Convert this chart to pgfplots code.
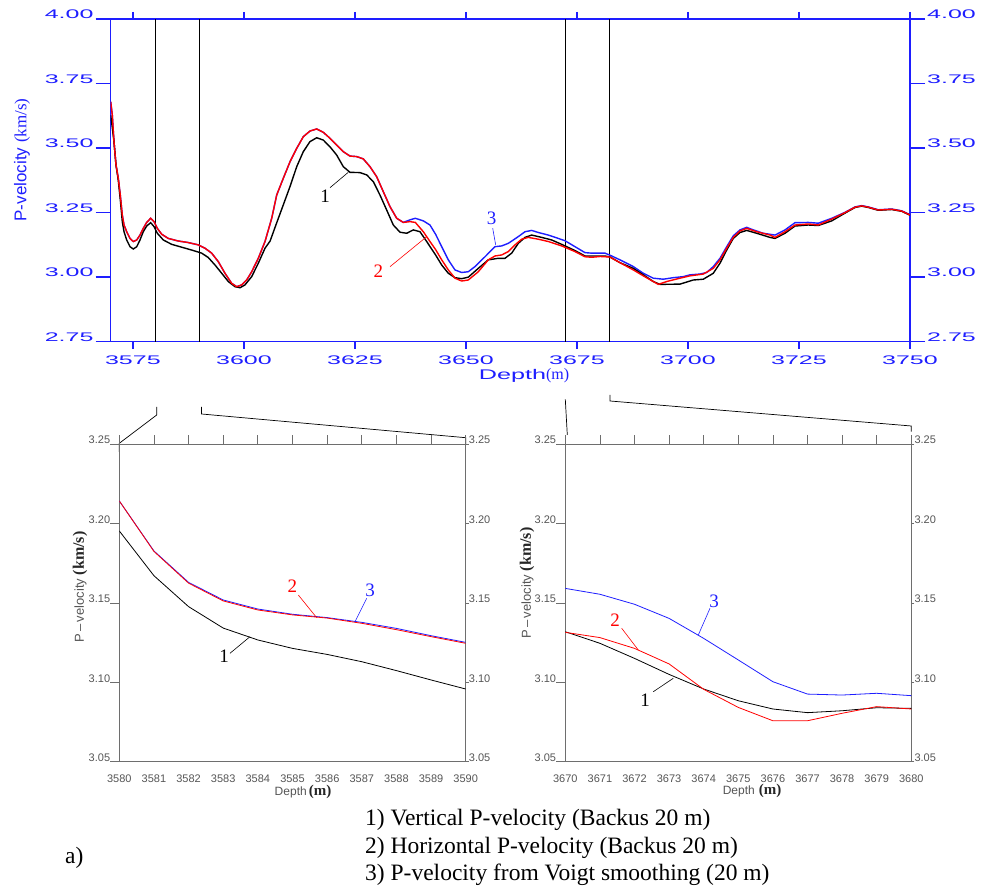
\documentclass[border=0pt]{standalone}
\usepackage{pgfplots}
\pgfplotsset{compat=1.18}
\usepackage{fontspec}
\setmainfont{Liberation Serif}
\setsansfont{Liberation Sans}
\usepackage{graphicx}
\definecolor{pblue}{RGB}{30,30,255}
\definecolor{pred}{RGB}{255,0,0}
\definecolor{tgray}{RGB}{85,85,85}
\definecolor{sgray}{RGB}{110,110,110}
\newcommand{\bt}[1]{\scalebox{2.0}[1]{\fontsize{12.5}{12.5}\selectfont\sffamily #1}}
\newcommand{\gt}[1]{{\fontsize{11}{11}\selectfont\sffamily\color{tgray}#1}}
\begin{document}
\begin{tikzpicture}
\path[use as bounding box] (0,0) rectangle (986pt,891pt);
% ---------------- main axis ----------------
\begin{axis}[name=main, at={(110.7pt,549.3pt)}, anchor=south west, scale only axis,
  width=799.3pt, height=322.7pt,
  xmin=3570, xmax=3750, ymin=2.75, ymax=4,
  axis line style={pblue, line width=1.5pt},
  xtick={3575,3600,3625,3650,3675,3700,3725,3750},
  xticklabels={\bt{3575},\bt{3600},\bt{3625},\bt{3650},\bt{3675},\bt{3700},\bt{3725},\bt{3750}},
  xtick pos=both, xticklabel pos=lower, tick align=outside, major tick length=7pt,
  tick style={pblue, line width=1.5pt},
  xticklabel style={pblue, inner sep=0pt, anchor=north, yshift=-7pt},
  ytick=\empty,
  clip=true]
\draw[black, line width=0.8pt] (axis cs:3580,2.75) -- (axis cs:3580,4);
\draw[black, line width=0.8pt] (axis cs:3590,2.75) -- (axis cs:3590,4);
\draw[black, line width=0.8pt] (axis cs:3672.3,2.75) -- (axis cs:3672.3,4);
\draw[black, line width=0.8pt] (axis cs:3682.4,2.75) -- (axis cs:3682.4,4);
% 3) Voigt (blue)
\addplot[pblue, line width=1.4pt] coordinates {(3570.0,3.680)(3570.36,3.628)(3570.74,3.525)(3571.19,3.435)(3571.71,3.383)(3572.16,3.318)(3572.61,3.241)(3573.0,3.202)(3573.6,3.176)(3574.35,3.150)(3575.09,3.138)(3575.86,3.144)(3576.6,3.163)(3577.34,3.189)(3578.1,3.212)(3579.0,3.228)(3579.75,3.215)(3580.5,3.189)(3581.5,3.166)(3582.97,3.150)(3585.22,3.140)(3587.47,3.134)(3589.73,3.125)(3591.24,3.112)(3592.74,3.093)(3594.23,3.060)(3595.74,3.015)(3597.25,2.976)(3598.37,2.963)(3599.5,2.970)(3600.63,2.989)(3601.75,3.021)(3603.24,3.073)(3604.75,3.138)(3606.26,3.228)(3607.38,3.318)(3608.87,3.383)(3610.38,3.447)(3611.89,3.499)(3613.37,3.544)(3614.88,3.566)(3616.39,3.574)(3617.88,3.561)(3619.38,3.538)(3620.89,3.512)(3622.38,3.486)(3623.89,3.469)(3625.4,3.467)(3626.88,3.458)(3628.39,3.428)(3629.9,3.389)(3631.39,3.331)(3632.9,3.273)(3634.41,3.228)(3635.89,3.212)(3637.4,3.222)(3638.6,3.228)(3640.4,3.218)(3641.9,3.202)(3643.2,3.165)(3644.54,3.118)(3646.03,3.067)(3647.53,3.028)(3649.04,3.018)(3650.53,3.021)(3652.04,3.041)(3654.29,3.079)(3656.54,3.118)(3658.05,3.121)(3659.54,3.131)(3661.79,3.157)(3663.3,3.176)(3664.81,3.181)(3666.29,3.173)(3668.55,3.163)(3670.8,3.150)(3672.31,3.141)(3674.56,3.118)(3676.81,3.095)(3678.32,3.093)(3681.31,3.093)(3682.44,3.085)(3684.69,3.067)(3687.69,3.041)(3689.94,3.015)(3692.19,2.996)(3694.44,2.992)(3696.69,2.998)(3698.94,3.002)(3700.45,3.009)(3702.7,3.012)(3704.22,3.018)(3705.7,3.041)(3707.21,3.073)(3708.72,3.118)(3710.2,3.160)(3711.71,3.183)(3713.22,3.193)(3714.71,3.183)(3716.96,3.170)(3719.6,3.163)(3721.85,3.183)(3724.1,3.211)(3727.1,3.212)(3729.35,3.209)(3732.37,3.228)(3735.36,3.251)(3737.62,3.272)(3739.12,3.277)(3740.61,3.272)(3742.86,3.261)(3745.88,3.264)(3748.13,3.257)(3750,3.242)};
% 1) Vertical (black)
\addplot[black, line width=1.4pt] coordinates {(3570,3.628)(3570.74,3.525)(3571.19,3.435)(3571.71,3.375)(3572.16,3.300)(3572.61,3.215)(3573.0,3.176)(3573.6,3.144)(3574.35,3.118)(3575.09,3.109)(3575.86,3.118)(3576.6,3.144)(3577.34,3.176)(3578.1,3.198)(3579.0,3.211)(3579.75,3.196)(3580.5,3.170)(3581.85,3.144)(3583.74,3.127)(3585.99,3.116)(3588.24,3.105)(3590.49,3.093)(3591.98,3.076)(3593.49,3.047)(3595.0,3.015)(3596.48,2.983)(3597.99,2.963)(3599.12,2.959)(3600.24,2.970)(3601.75,3.002)(3603.24,3.054)(3604.75,3.112)(3605.9,3.140)(3607.2,3.202)(3608.87,3.280)(3610.38,3.351)(3611.89,3.428)(3613.37,3.486)(3614.88,3.525)(3616.39,3.540)(3617.88,3.531)(3619.38,3.505)(3620.89,3.473)(3622.38,3.428)(3623.89,3.406)(3626.14,3.405)(3627.65,3.396)(3629.14,3.370)(3630.64,3.318)(3632.15,3.260)(3633.64,3.202)(3635.15,3.174)(3636.66,3.170)(3638.14,3.183)(3639.65,3.176)(3641.16,3.138)(3643.2,3.085)(3644.54,3.047)(3646.03,3.015)(3647.53,2.998)(3649.04,2.994)(3650.53,3.000)(3652.78,3.034)(3655.03,3.067)(3657.28,3.073)(3658.79,3.073)(3660.3,3.093)(3661.79,3.131)(3663.3,3.154)(3664.81,3.163)(3667.06,3.154)(3669.31,3.144)(3671.56,3.127)(3674.56,3.103)(3676.81,3.082)(3678.32,3.082)(3681.31,3.082)(3682.44,3.078)(3684.69,3.056)(3687.69,3.034)(3689.94,3.009)(3692.19,2.983)(3693.7,2.972)(3698.2,2.973)(3701.2,2.989)(3703.45,2.992)(3705.7,3.015)(3707.21,3.054)(3708.72,3.105)(3710.2,3.150)(3711.71,3.173)(3713.22,3.181)(3715.47,3.170)(3718.47,3.154)(3719.6,3.150)(3721.85,3.170)(3724.1,3.198)(3727.1,3.202)(3729.35,3.200)(3732.37,3.218)(3735.36,3.248)(3737.62,3.270)(3739.12,3.275)(3740.61,3.270)(3742.86,3.259)(3745.88,3.262)(3748.13,3.255)(3750,3.240)};
% 2) Horizontal (red)
\addplot[pred, line width=1.4pt] coordinates {(3570.0,3.680)(3570.36,3.628)(3570.74,3.525)(3571.19,3.435)(3571.71,3.383)(3572.16,3.318)(3572.61,3.241)(3573.0,3.202)(3573.6,3.176)(3574.35,3.150)(3575.09,3.138)(3575.86,3.144)(3576.6,3.163)(3577.34,3.189)(3578.1,3.212)(3579.0,3.228)(3579.75,3.215)(3580.5,3.189)(3581.5,3.166)(3582.97,3.150)(3585.22,3.140)(3587.47,3.134)(3589.73,3.125)(3591.24,3.112)(3592.74,3.093)(3594.23,3.060)(3595.74,3.015)(3597.25,2.976)(3598.37,2.963)(3599.5,2.970)(3600.63,2.989)(3601.75,3.021)(3603.24,3.073)(3604.75,3.138)(3606.26,3.228)(3607.38,3.318)(3608.87,3.383)(3610.38,3.447)(3611.89,3.499)(3613.37,3.544)(3614.88,3.566)(3616.39,3.574)(3617.88,3.561)(3619.38,3.538)(3620.89,3.512)(3622.38,3.486)(3623.89,3.469)(3625.4,3.467)(3626.88,3.458)(3628.39,3.428)(3629.9,3.389)(3631.39,3.331)(3632.9,3.273)(3634.41,3.228)(3635.89,3.212)(3637.4,3.215)(3638.6,3.212)(3640.4,3.176)(3641.9,3.138)(3643.2,3.106)(3644.54,3.067)(3646.03,3.028)(3647.53,2.996)(3649.04,2.985)(3650.53,2.989)(3652.78,3.021)(3655.03,3.067)(3656.54,3.082)(3658.05,3.086)(3659.54,3.099)(3661.05,3.125)(3662.55,3.147)(3664.04,3.154)(3666.29,3.147)(3668.55,3.138)(3671.56,3.121)(3674.56,3.099)(3676.81,3.079)(3678.32,3.077)(3680.2,3.080)(3682.4,3.078)(3684.69,3.056)(3687.69,3.028)(3689.94,3.005)(3692.19,2.983)(3693.31,2.972)(3695.21,2.983)(3698.2,2.996)(3700.45,3.005)(3703.45,3.012)(3705.7,3.034)(3707.21,3.067)(3708.72,3.112)(3710.2,3.154)(3711.71,3.179)(3713.22,3.189)(3715.47,3.176)(3718.47,3.163)(3719.6,3.154)(3721.85,3.176)(3724.1,3.202)(3727.1,3.206)(3729.35,3.202)(3732.37,3.225)(3735.36,3.250)(3737.62,3.271)(3739.12,3.276)(3740.61,3.271)(3742.86,3.260)(3745.88,3.263)(3748.13,3.256)(3750.0,3.241)};
\end{axis}
% left y tick labels of main axis
\begin{axis}[at={(110.7pt,549.3pt)}, anchor=south west, scale only axis,
  width=799.3pt, height=322.7pt,
  xmin=3570, xmax=3750, ymin=2.75, ymax=4,
  axis line style={draw=none}, xtick=\empty,
  ytick={2.75,3,3.25,3.5,3.75,4},
  yticklabels={\bt{2.75},\bt{3.00},\bt{3.25},\bt{3.50},\bt{3.75},\bt{4.00}},
  ytick pos=left, yticklabel pos=left, tick align=outside, major tick length=15pt,
  tick style={pblue, line width=1.5pt},
  yticklabel style={pblue, inner sep=0pt, anchor=south east, xshift=-2pt}]
\end{axis}
\begin{axis}[at={(110.7pt,549.3pt)}, anchor=south west, scale only axis,
  width=799.3pt, height=322.7pt,
  xmin=3570, xmax=3750, ymin=2.75, ymax=4,
  axis line style={draw=none}, xtick=\empty,
  ytick={2.75,3,3.25,3.5,3.75,4},
  yticklabels={\bt{2.75},\bt{3.00},\bt{3.25},\bt{3.50},\bt{3.75},\bt{4.00}},
  ytick pos=right, yticklabel pos=right, tick align=outside, major tick length=15pt,
  tick style={pblue, line width=1.5pt},
  yticklabel style={pblue, inner sep=0pt, anchor=south west, xshift=2pt}]
\end{axis}
% main labels
\node[rotate=90, pblue] at (22pt,731pt) {\fontsize{17}{17}\selectfont\sffamily P-velocity \rmfamily(km/s)};
\node[pblue] at (524pt,515pt) {\scalebox{1.8}[1]{\fontsize{14}{14}\selectfont\sffamily Depth}\fontsize{16}{16}\selectfont\rmfamily(m)};
% main annotations
\node[black] at (325pt,694.3pt) {\fontsize{19}{19}\selectfont 1};
\draw[black, line width=0.6pt] (330pt,703.3pt) -- (348.3pt,718.7pt);
\node[pred] at (378.3pt,619.3pt) {\fontsize{19}{19}\selectfont 2};
\draw[pred, line width=0.6pt] (390pt,624.3pt) -- (426.7pt,654.3pt);
\node[pblue] at (491.7pt,672.7pt) {\fontsize{19}{19}\selectfont 3};
\draw[pblue, line width=0.6pt] (492.7pt,662.7pt) -- (495.7pt,646pt);
% connectors
\draw[black, line width=0.7pt] (156.7pt,484pt) -- (156.7pt,476pt) -- (119.3pt,447.7pt) -- (119.3pt,439pt);
\draw[black, line width=0.7pt] (201.5pt,484pt) -- (201.5pt,477pt) -- (465.7pt,453.3pt) -- (465.7pt,447pt);
\draw[black, line width=0.7pt] (565.3pt,491.7pt) -- (567.3pt,456pt);
\draw[black, line width=0.7pt] (610pt,496pt) -- (610pt,490pt) -- (911.3pt,465pt) -- (911.3pt,459.3pt);
% ---------------- bottom left ----------------
\begin{axis}[at={(119.3pt,129.3pt)}, anchor=south west, scale only axis,
  width=346.4pt, height=317.4pt,
  xmin=3580, xmax=3590, ymin=3.05, ymax=3.25,
  axis line style={sgray, line width=0.8pt},
  xtick={3580,3581,3582,3583,3584,3585,3586,3587,3588,3589,3590},
  xticklabels={\gt{3580},\gt{3581},\gt{3582},\gt{3583},\gt{3584},\gt{3585},\gt{3586},\gt{3587},\gt{3588},\gt{3589},\gt{3590}},
  xtick pos=top, xticklabel pos=bottom,
  ytick={3.05,3.1,3.15,3.2,3.25},
  yticklabels={\gt{3.05},\gt{3.10},\gt{3.15},\gt{3.20},\gt{3.25}},
  ytick pos=left, yticklabel pos=left,
  tick align=outside, major tick length=9pt,
  tick style={sgray, line width=0.8pt},
  xticklabel style={inner sep=0pt, anchor=north, yshift=-3.5pt},
  yticklabel style={inner sep=0pt, anchor=south east, xshift=0pt}]
\addplot[pblue, line width=0.8pt] coordinates {(3580,3.2143)(3581,3.1828)(3582,3.163)(3583,3.1519)(3584,3.1462)(3585,3.1429)(3586,3.1408)(3587,3.1378)(3588,3.134)(3589,3.1294)(3590,3.1252)};
\addplot[pred, line width=0.8pt] coordinates {(3580,3.2143)(3581,3.1825)(3582,3.1625)(3583,3.1513)(3584,3.1456)(3585,3.1425)(3586,3.1405)(3587,3.1372)(3588,3.1332)(3589,3.1288)(3590,3.1246)};
\addplot[black, line width=0.8pt] coordinates {(3580,3.1954)(3581,3.1672)(3582,3.1477)(3583,3.1342)(3584,3.1267)(3585,3.1214)(3586,3.1176)(3587,3.113)(3588,3.1074)(3589,3.1015)(3590,3.0958)};
\end{axis}
\begin{axis}[at={(119.3pt,129.3pt)}, anchor=south west, scale only axis,
  width=346.4pt, height=317.4pt,
  xmin=3580, xmax=3590, ymin=3.05, ymax=3.25,
  axis line style={draw=none}, xtick=\empty,
  ytick={3.05,3.1,3.15,3.2,3.25},
  yticklabels={\gt{3.05},\gt{3.10},\gt{3.15},\gt{3.20},\gt{3.25}},
  ytick pos=right, yticklabel pos=right, tick align=outside, major tick length=3pt,
  tick style={sgray, line width=0.8pt},
  yticklabel style={inner sep=0pt, anchor=south west, xshift=0pt}]
\end{axis}
\node[rotate=90] at (80pt,304pt) {\fontsize{13}{13}\selectfont\sffamily\color{tgray}P\,--\,velocity \rmfamily\bfseries\fontsize{16}{16}\selectfont\color{black!85}(km/s)};
\node at (303pt,99.5pt) {\fontsize{12}{12}\selectfont\sffamily\color{tgray}Depth\,\rmfamily\bfseries\fontsize{15}{15}\selectfont\color{black!85}(m)};
\node[pred] at (292.3pt,304.3pt) {\fontsize{19}{19}\selectfont 2};
\draw[pred, line width=0.6pt] (298.3pt,296pt) -- (316.7pt,273.3pt);
\node[pblue] at (370pt,301pt) {\fontsize{19}{19}\selectfont 3};
\draw[pblue, line width=0.6pt] (366.7pt,292.7pt) -- (355pt,269.3pt);
\node[black] at (224pt,234.3pt) {\fontsize{19}{19}\selectfont 1};
\draw[black, line width=0.6pt] (230pt,237.7pt) -- (250pt,254.3pt);
% ---------------- bottom right ----------------
\begin{axis}[at={(565.3pt,129.3pt)}, anchor=south west, scale only axis,
  width=346pt, height=317.4pt,
  xmin=3670, xmax=3680, ymin=3.05, ymax=3.25,
  axis line style={sgray, line width=0.8pt},
  xtick={3670,3671,3672,3673,3674,3675,3676,3677,3678,3679,3680},
  xticklabels={\gt{3670},\gt{3671},\gt{3672},\gt{3673},\gt{3674},\gt{3675},\gt{3676},\gt{3677},\gt{3678},\gt{3679},\gt{3680}},
  xtick pos=top, xticklabel pos=bottom,
  ytick={3.05,3.1,3.15,3.2,3.25},
  yticklabels={\gt{3.05},\gt{3.10},\gt{3.15},\gt{3.20},\gt{3.25}},
  ytick pos=left, yticklabel pos=left,
  tick align=outside, major tick length=9pt,
  tick style={sgray, line width=0.8pt},
  xticklabel style={inner sep=0pt, anchor=north, yshift=-3.5pt},
  yticklabel style={inner sep=0pt, anchor=south east, xshift=0pt}]
\addplot[pblue, line width=0.8pt] coordinates {(3670,3.1592)(3671,3.1555)(3672,3.1492)(3673,3.1403)(3674,3.1277)(3675,3.1141)(3676,3.1004)(3677,3.0926)(3678,3.092)(3679,3.0931)(3680,3.0916)};
\addplot[black, line width=0.8pt] coordinates {(3670,3.1319)(3671,3.1246)(3672,3.1151)(3673,3.105)(3674,3.0958)(3675,3.0884)(3676,3.0832)(3677,3.0809)(3678,3.0821)(3679,3.084)(3680,3.0836)};
\addplot[pred, line width=0.8pt] coordinates {(3670,3.1315)(3671,3.1282)(3672,3.1214)(3673,3.1116)(3674,3.0956)(3675,3.0842)(3676,3.0758)(3677,3.0758)(3678,3.0805)(3679,3.0847)(3680,3.0832)};
\end{axis}
\begin{axis}[at={(565.3pt,129.3pt)}, anchor=south west, scale only axis,
  width=346pt, height=317.4pt,
  xmin=3670, xmax=3680, ymin=3.05, ymax=3.25,
  axis line style={draw=none}, xtick=\empty,
  ytick={3.05,3.1,3.15,3.2,3.25},
  yticklabels={\gt{3.05},\gt{3.10},\gt{3.15},\gt{3.20},\gt{3.25}},
  ytick pos=right, yticklabel pos=right, tick align=outside, major tick length=3pt,
  tick style={sgray, line width=0.8pt},
  yticklabel style={inner sep=0pt, anchor=south west, xshift=0pt}]
\end{axis}
\node[rotate=90] at (527pt,308pt) {\fontsize{13}{13}\selectfont\sffamily\color{tgray}P\,--\,velocity \rmfamily\bfseries\fontsize{16}{16}\selectfont\color{black!85}(km/s)};
\node at (752pt,100pt) {\fontsize{12}{12}\selectfont\sffamily\color{tgray}Depth\,\,\rmfamily\bfseries\fontsize{15}{15}\selectfont\color{black!85}(m)};
\node[pblue] at (714pt,289.3pt) {\fontsize{19}{19}\selectfont 3};
\draw[pblue, line width=0.6pt] (710pt,282.7pt) -- (698.3pt,256pt);
\node[pred] at (615pt,271pt) {\fontsize{19}{19}\selectfont 2};
\draw[pred, line width=0.6pt] (621.7pt,262.7pt) -- (638.3pt,241pt);
\node[black] at (645pt,191pt) {\fontsize{19}{19}\selectfont 1};
\draw[black, line width=0.6pt] (653.3pt,199.3pt) -- (673.3pt,212.7pt);
% ---------------- legend text ----------------
\node[anchor=west, inner sep=0pt] at (365pt,71pt) {\fontsize{23.5}{27}\selectfont 1) Vertical P-velocity (Backus 20 m)};
\node[anchor=west, inner sep=0pt] at (365pt,43pt) {\fontsize{23.5}{27}\selectfont 2) Horizontal P-velocity (Backus 20 m)};
\node[anchor=west, inner sep=0pt] at (365pt,16pt) {\fontsize{23.5}{27}\selectfont 3) P-velocity from Voigt smoothing (20 m)};
\node[anchor=west, inner sep=0pt] at (65pt,33pt) {\fontsize{23.5}{27}\selectfont a)};
\end{tikzpicture}
\end{document}
